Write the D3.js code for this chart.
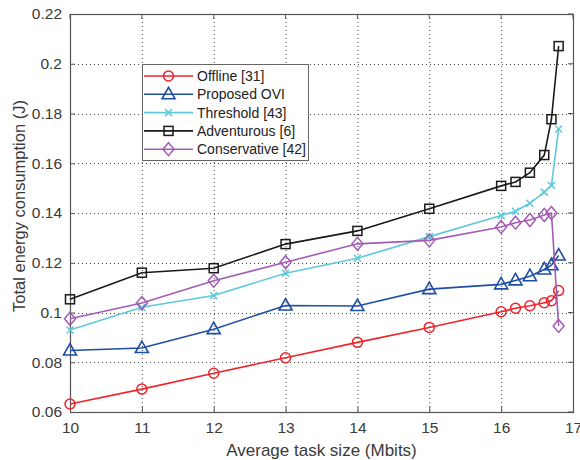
<!DOCTYPE html>
<html><head><meta charset="utf-8">
<script src="https://cdn.jsdelivr.net/npm/d3@7"></script>
<style>body{margin:0;background:#fff}svg{display:block}</style>
</head><body>
<script>
const xValues = [10, 11, 12, 13, 14, 15, 16, 16.2, 16.4, 16.6, 16.7, 16.8];
const offline = [0.0632, 0.0692, 0.0756, 0.0818, 0.0880, 0.0940, 0.1003, 0.1017, 0.1027, 0.1039, 0.1047, 0.1088];
const proposed = [0.0847, 0.0857, 0.0933, 0.1028, 0.1026, 0.1094, 0.1113, 0.1129, 0.1146, 0.1173, 0.1190, 0.1229];
const threshold = [0.0930, 0.1021, 0.1068, 0.1158, 0.1218, 0.1305, 0.1390, 0.1407, 0.1439, 0.1484, 0.1511, 0.1738];
const adventurous = [0.1053, 0.1160, 0.1178, 0.1275, 0.1328, 0.1417, 0.1509, 0.1525, 0.1562, 0.1633, 0.1777, 0.2071];
const conservative = [0.0975, 0.1038, 0.1128, 0.1202, 0.1276, 0.1290, 0.1344, 0.1361, 0.1372, 0.1392, 0.1400, 0.0946];
const seriesNames = ["Offline [31]", "Proposed OVI", "Threshold [43]", "Adventurous [6]", "Conservative [42]"];
const xTicks = [10, 11, 12, 13, 14, 15, 16, 17];
const yTicks = [0.06, 0.08, 0.1, 0.12, 0.14, 0.16, 0.18, 0.2, 0.22];
const xLabel = "Average task size (Mbits)";
const yLabel = "Total energy consumption (J)";

const series = [
  {name: seriesNames[0], values: offline, color: "#f0232b", marker: "circle"},
  {name: seriesNames[1], values: proposed, color: "#1f4ea6", marker: "triangle"},
  {name: seriesNames[2], values: threshold, color: "#5ec9d9", marker: "x"},
  {name: seriesNames[3], values: adventurous, color: "#1a1a1a", marker: "square"},
  {name: seriesNames[4], values: conservative, color: "#a35cb5", marker: "diamond"}
];

const W = 580, H = 460;
const m = {left: 70, right: 7, top: 14, bottom: 48};
const svg = d3.select("body").append("svg").attr("width", W).attr("height", H)
  .style("font-family", "'Liberation Sans', Arial, sans-serif");

const x = d3.scaleLinear().domain([10, 17]).range([m.left, W - m.right]);
const y = d3.scaleLinear().domain([0.06, 0.22]).range([H - m.bottom, m.top]);
const pw = W - m.right - m.left, ph = H - m.bottom - m.top;

// grid
const grid = svg.append("g").attr("stroke", "#444").attr("stroke-width", 1).attr("stroke-dasharray", "1,3");
grid.selectAll(".gx").data(xTicks.slice(1, -1)).join("line")
  .attr("x1", d => x(d) + 0.5).attr("x2", d => x(d) + 0.5).attr("y1", m.top).attr("y2", H - m.bottom);
grid.selectAll(".gy").data(yTicks.slice(1, -1)).join("line")
  .attr("y1", d => Math.round(y(d)) + 0.5).attr("y2", d => Math.round(y(d)) + 0.5).attr("x1", m.left).attr("x2", W - m.right);

// axes
const fmt = d => d3.format("~g")(+d.toFixed(2));
const xAxis = svg.append("g").attr("transform", `translate(0,${H - m.bottom})`)
  .call(d3.axisBottom(x).tickValues(xTicks).tickSize(-5).tickPadding(10).tickFormat(d3.format("d")));
const yAxis = svg.append("g").attr("transform", `translate(${m.left},0)`)
  .call(d3.axisLeft(y).tickValues(yTicks).tickSize(-5).tickPadding(8).tickFormat(fmt));
[xAxis, yAxis].forEach(a => {
  a.select(".domain").remove();
  a.selectAll("line").attr("stroke", "#555");
  a.selectAll("text").attr("fill", "#3a3a3a").style("font-size", "15.5px");
});
// top/right ticks
svg.append("g").selectAll("line").data(xTicks).join("line")
  .attr("x1", d => x(d)).attr("x2", d => x(d)).attr("y1", m.top).attr("y2", m.top + 5).attr("stroke", "#555");
svg.append("g").selectAll("line").data(yTicks).join("line")
  .attr("y1", d => y(d)).attr("y2", d => y(d)).attr("x1", W - m.right).attr("x2", W - m.right - 5).attr("stroke", "#555");

// frame
svg.append("rect").attr("x", m.left + 0.5).attr("y", m.top + 0.5).attr("width", pw).attr("height", ph)
  .attr("fill", "none").attr("stroke", "#555").attr("stroke-width", 1.2);

// labels
svg.append("text").attr("x", (m.left + W - m.right) / 2).attr("y", H - 4).attr("text-anchor", "middle")
  .style("font-size", "17px").attr("fill", "#3a3a3a").text(xLabel);
svg.append("text").attr("transform", `translate(25,206) rotate(-90)`).attr("text-anchor", "middle")
  .style("font-size", "16.5px").attr("fill", "#3a3a3a").text(yLabel);

function drawMarker(g, type, cx, cy, color) {
  if (type === "circle") g.append("circle").attr("cx", cx).attr("cy", cy).attr("r", 5).attr("fill", "none").attr("stroke", color).attr("stroke-width", 1.5);
  else if (type === "triangle") g.append("path").attr("d", `M${cx},${cy - 7}L${cx + 6.5},${cy + 4.5}L${cx - 6.5},${cy + 4.5}Z`).attr("fill", "none").attr("stroke", color).attr("stroke-width", 1.6);
  else if (type === "square") g.append("rect").attr("x", cx - 4.5).attr("y", cy - 4.5).attr("width", 9).attr("height", 9).attr("fill", "none").attr("stroke", color).attr("stroke-width", 1.5);
  else if (type === "diamond") g.append("path").attr("d", `M${cx},${cy - 6.5}L${cx + 5.5},${cy}L${cx},${cy + 6.5}L${cx - 5.5},${cy}Z`).attr("fill", "none").attr("stroke", color).attr("stroke-width", 1.5);
  else if (type === "x") g.append("path").attr("d", `M${cx - 3.5},${cy - 3.5}L${cx + 3.5},${cy + 3.5}M${cx - 3.5},${cy + 3.5}L${cx + 3.5},${cy - 3.5}`).attr("fill", "none").attr("stroke", color).attr("stroke-width", 1.5);
}

const line = d3.line().x(d => x(d[0])).y(d => y(d[1]));
series.forEach(s => {
  const pts = xValues.map((xv, i) => [xv, s.values[i]]);
  const g = svg.append("g");
  g.append("path").datum(pts).attr("d", line).attr("fill", "none").attr("stroke", s.color).attr("stroke-width", 1.6);
  pts.forEach(p => drawMarker(g, s.marker, x(p[0]), y(p[1]), s.color));
});

// legend
const lg = svg.append("g");
lg.append("rect").attr("x", 142.5).attr("y", 64.5).attr("width", 166).attr("height", 96)
  .attr("fill", "#fff").attr("stroke", "#666").attr("stroke-width", 1);
series.forEach((s, i) => {
  const yy = 76 + i * 18.3;
  lg.append("line").attr("x1", 144).attr("x2", 193).attr("y1", yy).attr("y2", yy).attr("stroke", s.color).attr("stroke-width", 1.6);
  drawMarker(lg, s.marker, 168.5, yy, s.color);
  lg.append("text").attr("x", 197).attr("y", yy + 5).style("font-size", "14px").attr("fill", "#222").text(s.name);
});
</script>
</body></html>
